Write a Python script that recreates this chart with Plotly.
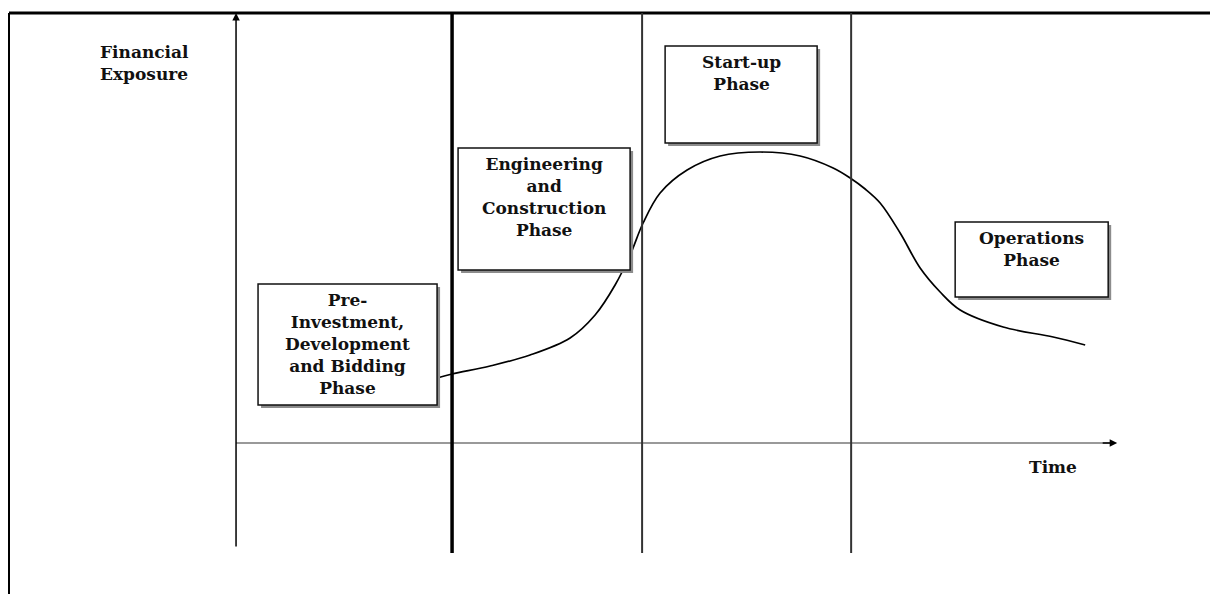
import plotly.graph_objects as go

# exposure curve (time units, exposure units; origin at the axes crossing)
time = [20.1, 21.6, 25.4, 29.4, 33.4, 35.9, 37.9, 39.4, 40.7, 42.4, 45.1, 48.4,
        52.4, 56.4, 59.7, 61.4, 62.9, 64.4, 66.4, 68.4, 70.4, 72.4, 76.7, 81.7, 84.9]
exposure = [6.5, 6.9, 7.7, 8.8, 10.5, 12.8, 15.8, 18.8, 22.0, 25.0, 27.3, 28.7,
            29.1, 28.7, 27.5, 26.5, 25.4, 24.0, 21.0, 17.5, 15.1, 13.3, 11.6, 10.6, 9.8]

phase_bounds = [21.6, 40.6, 61.5]
bound_widths = [3.5, 2, 2]
bound_colors = ["#000000", "#333333", "#333333"]

phase_labels = [
    "Pre-<br>Investment,<br>Development<br>and Bidding<br>Phase",
    "Engineering<br>and<br>Construction<br>Phase",
    "Start-up<br>Phase",
    "Operations<br>Phase",
]
# box corners: x0, x1, y_top, y_bottom
box_x0 = [2.2, 22.2, 42.9, 71.9]
box_x1 = [20.1, 39.4, 58.1, 87.2]
box_top = [15.9, 29.5, 39.7, 22.1]
box_bot = [3.8, 17.3, 30.0, 14.6]

FONT = "DejaVu Serif"
FS = 17

fig = go.Figure()

fig.add_trace(go.Scatter(
    x=time, y=exposure, mode="lines",
    line={"color": "black", "width": 1.7, "shape": "spline", "smoothing": 1.0},
    showlegend=False, hoverinfo="skip",
))

shapes = []
# outer frame
shapes.append({"type": "line", "x0": -22.7, "x1": 100, "y0": 43.0, "y1": 43.0,
               "line": {"color": "black", "width": 3}})
shapes.append({"type": "line", "x0": -22.7, "x1": -22.7, "y0": 43.0, "y1": -17,
               "line": {"color": "black", "width": 2}})
# time axis
shapes.append({"type": "line", "x0": 0, "x1": 87.5, "y0": 0, "y1": 0,
               "line": {"color": "#999999", "width": 2}})
# phase boundaries
for b, w, c in zip(phase_bounds, bound_widths, bound_colors):
    shapes.append({"type": "line", "x0": b, "x1": b, "y0": 43.0, "y1": -11.0,
                   "line": {"color": c, "width": w}})
# boxes with shadow
for x0, x1, yt, yb in zip(box_x0, box_x1, box_top, box_bot):
    shapes.append({"type": "rect", "x0": x0 + 0.3, "x1": x1 + 0.3, "y0": yt - 0.3, "y1": yb - 0.3,
                   "line": {"width": 0}, "fillcolor": "#8c8c8c"})
    shapes.append({"type": "rect", "x0": x0, "x1": x1, "y0": yt, "y1": yb,
                   "line": {"color": "#111111", "width": 1.5}, "fillcolor": "white"})

annotations = []
for lab, x0, x1, yt in zip(phase_labels, box_x0, box_x1, box_top):
    annotations.append({"x": (x0 + x1) / 2, "y": yt - 0.4, "text": "<b>" + lab + "</b>",
                        "showarrow": False, "xanchor": "center", "yanchor": "top",
                        "font": {"family": FONT, "size": FS, "color": "#111111"}})

annotations.append({"x": -13.8, "y": 40.3, "text": "<b>Financial<br>Exposure</b>",
                    "showarrow": False, "xanchor": "left", "yanchor": "top", "align": "left",
                    "font": {"family": FONT, "size": FS, "color": "#111111"}})
annotations.append({"x": 81.7, "y": -2.4, "text": "<b>Time</b>",
                    "showarrow": False, "xanchor": "center", "yanchor": "middle",
                    "font": {"family": FONT, "size": FS, "color": "#111111"}})

# axis arrows
annotations.append({"x": 0, "y": 43.0, "ax": 0, "ay": -10.5, "xref": "x", "yref": "y",
                    "axref": "x", "ayref": "y", "showarrow": True, "arrowhead": 2,
                    "arrowsize": 1, "arrowwidth": 1.5, "arrowcolor": "black", "text": ""})
annotations.append({"x": 88.1, "y": 0, "ax": 86.5, "ay": 0, "xref": "x", "yref": "y",
                    "axref": "x", "ayref": "y", "showarrow": True, "arrowhead": 2,
                    "arrowsize": 1, "arrowwidth": 1.5, "arrowcolor": "black", "text": ""})

# the page puts the figure 8px in from the top-left corner, so ranges are shifted to match
fig.update_layout(
    width=1218, height=594,
    margin={"l": 0, "r": 0, "t": 0, "b": 0},
    paper_bgcolor="white", plot_bgcolor="white",
    xaxis={"range": [-22.8, 98.98], "visible": False, "fixedrange": True},
    yaxis={"range": [-15.9, 43.5], "visible": False, "fixedrange": True},
    shapes=shapes,
    annotations=annotations,
    showlegend=False,
)

fig.write_html("out.html")
